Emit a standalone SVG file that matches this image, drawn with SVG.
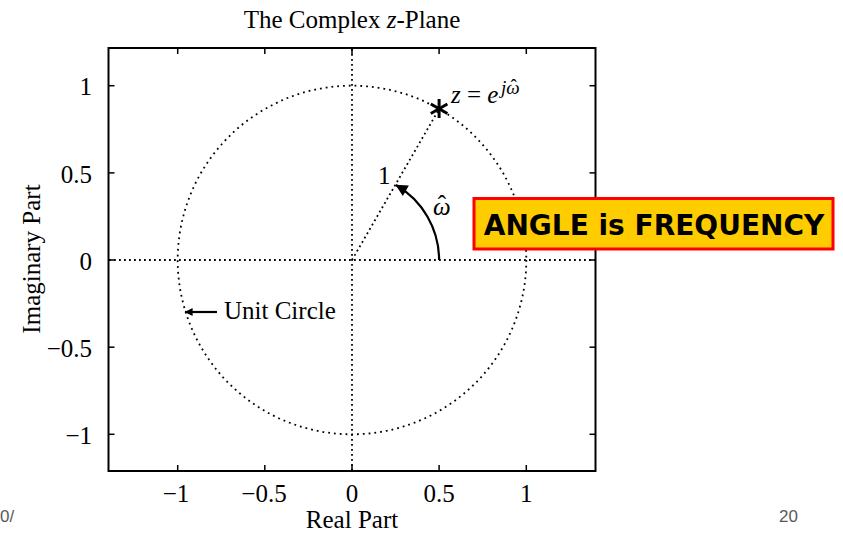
<svg xmlns="http://www.w3.org/2000/svg" width="843" height="533" viewBox="0 0 843 533">
<style>
.t{font-family:"Liberation Serif","Times New Roman",serif;font-size:25px;fill:#000}
.frame{fill:none;stroke:#000;stroke-width:2}
.tick{stroke:#000;stroke-width:1.5}
.dot{fill:none;stroke:#000;stroke-width:1.8;stroke-dasharray:1.8 3.2;stroke-linecap:butt}
.dotc{fill:none;stroke:#000;stroke-width:1.8;stroke-dasharray:1.8 4}
.arr{fill:none;stroke:#000;stroke-width:2.2}
.pg{font-family:"Liberation Sans",Arial,sans-serif;font-size:17px;fill:#595959}
</style>
<defs>
<marker id="ah" viewBox="0 0 10 10" refX="9.5" refY="5" markerWidth="11" markerHeight="8" markerUnits="userSpaceOnUse" orient="auto">
<path d="M0,0 L10,5 L0,10 Z" fill="#000"/>
</marker>
<marker id="ah2" viewBox="0 0 10 10" refX="9.5" refY="5" markerWidth="16" markerHeight="12" markerUnits="userSpaceOnUse" orient="auto">
<path d="M0,0 L10,5 L0,10 Z" fill="#000"/>
</marker>
</defs>

<text class="t" x="352" y="28" text-anchor="middle">The Complex <tspan font-style="italic">z</tspan>-Plane</text>

<g id="axes">
<rect class="frame" x="108.5" y="48" width="487" height="423"/>
<g class="tick">
<line x1="177.7" y1="471" x2="177.7" y2="465"/><line x1="264.8" y1="471" x2="264.8" y2="465"/><line x1="352" y1="471" x2="352" y2="465"/><line x1="439.1" y1="471" x2="439.1" y2="465"/><line x1="526.3" y1="471" x2="526.3" y2="465"/>
<line x1="177.7" y1="48" x2="177.7" y2="54"/><line x1="264.8" y1="48" x2="264.8" y2="54"/><line x1="352" y1="48" x2="352" y2="54"/><line x1="439.1" y1="48" x2="439.1" y2="54"/><line x1="526.3" y1="48" x2="526.3" y2="54"/>
<line x1="108.5" y1="85.7" x2="114.5" y2="85.7"/><line x1="108.5" y1="172.9" x2="114.5" y2="172.9"/><line x1="108.5" y1="260" x2="114.5" y2="260"/><line x1="108.5" y1="347.2" x2="114.5" y2="347.2"/><line x1="108.5" y1="434.3" x2="114.5" y2="434.3"/>
<line x1="595.5" y1="85.7" x2="589.5" y2="85.7"/><line x1="595.5" y1="172.9" x2="589.5" y2="172.9"/><line x1="595.5" y1="260" x2="589.5" y2="260"/><line x1="595.5" y1="347.2" x2="589.5" y2="347.2"/><line x1="595.5" y1="434.3" x2="589.5" y2="434.3"/>
</g>
<g class="t">
<text x="176" y="502" text-anchor="middle">−1</text>
<text x="264" y="502" text-anchor="middle">−0.5</text>
<text x="352" y="502" text-anchor="middle">0</text>
<text x="439.1" y="502" text-anchor="middle">0.5</text>
<text x="526.3" y="502" text-anchor="middle">1</text>
<text x="92" y="95" text-anchor="end">1</text>
<text x="92" y="183" text-anchor="end">0.5</text>
<text x="92" y="270" text-anchor="end">0</text>
<text x="92" y="357" text-anchor="end">−0.5</text>
<text x="92" y="444" text-anchor="end">−1</text>
<text x="352" y="528" text-anchor="middle">Real Part</text>
<text transform="translate(40,259) rotate(-90)" text-anchor="middle">Imaginary Part</text>
</g>
</g>

<g id="connectors">
<line class="dot" x1="109" y1="260" x2="595" y2="260"/>
<line class="dot" x1="352" y1="49" x2="352" y2="470"/>
<circle class="dotc" cx="352" cy="260" r="174.3"/>
<line class="dot" x1="352" y1="260" x2="439.1" y2="109"/>
<path class="arr" d="M439.1,260 A87.1,87.1 0 0 0 396,185" marker-end="url(#ah2)"/>
<line class="arr" x1="217" y1="312" x2="185" y2="312" marker-end="url(#ah)"/>
</g>

<g id="point">
<g stroke="#000" stroke-width="3">
<line x1="439.1" y1="99" x2="439.1" y2="118"/>
<line x1="430.8" y1="104" x2="447.4" y2="113.5"/>
<line x1="430.8" y1="113.5" x2="447.4" y2="104"/>
</g>
<text class="t" x="451" y="103"><tspan font-style="italic">z</tspan> = <tspan font-style="italic">e</tspan><tspan x="501" y="94" font-size="19" font-style="italic">jω</tspan><tspan font-size="19" dx="-9.2" dy="-2">ˆ</tspan></text>
</g>

<g id="labels">
<text class="t" x="378" y="184">1</text>
<text class="t" x="433" y="215"><tspan font-style="italic">ω</tspan><tspan dx="-12.9" dy="-2">ˆ</tspan></text>
<text class="t" x="224" y="319">Unit Circle</text>
</g>

<g id="callout">
<rect x="474" y="198.5" width="359" height="50.5" fill="#FFCC00" stroke="#FF0000" stroke-width="3"/>
<text x="654" y="235" text-anchor="middle" font-family="DejaVu Sans,Verdana,sans-serif" font-weight="bold" font-size="28" fill="#000">ANGLE is FREQUENCY</text>
</g>

<text class="pg" x="779" y="522">20</text>
<text class="pg" x="0" y="522">0/</text>
</svg>
